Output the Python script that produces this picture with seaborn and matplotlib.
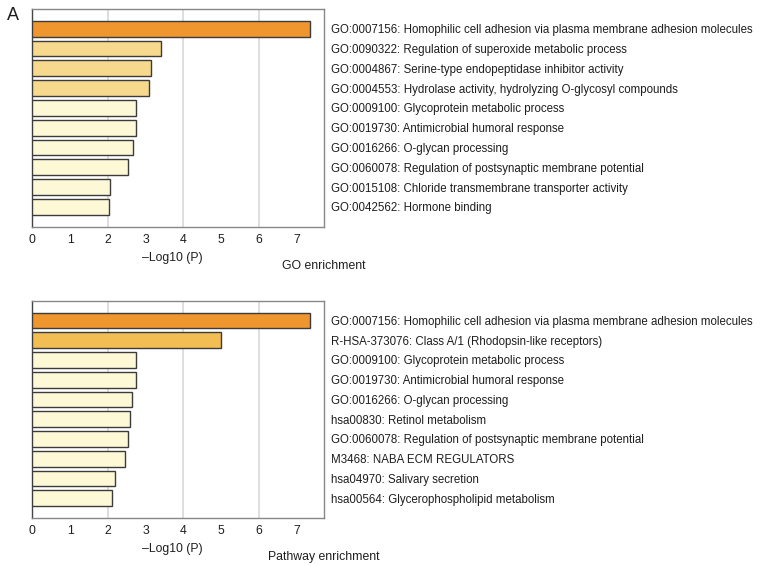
import matplotlib
matplotlib.use('Agg')
import matplotlib.pyplot as plt
import seaborn as sns
import pandas as pd

# GO enrichment (top panel)
go_terms = [
    'GO:0007156: Homophilic cell adhesion via plasma membrane adhesion molecules',
    'GO:0090322: Regulation of superoxide metabolic process',
    'GO:0004867: Serine-type endopeptidase inhibitor activity',
    'GO:0004553: Hydrolase activity, hydrolyzing O-glycosyl compounds',
    'GO:0009100: Glycoprotein metabolic process',
    'GO:0019730: Antimicrobial humoral response',
    'GO:0016266: O-glycan processing',
    'GO:0060078: Regulation of postsynaptic membrane potential',
    'GO:0015108: Chloride transmembrane transporter activity',
    'GO:0042562: Hormone binding',
]
go_logp = [7.36, 3.40, 3.15, 3.10, 2.76, 2.75, 2.66, 2.53, 2.06, 2.04]
go_colors = ['#f0962f', '#f6d98c', '#f6d98c', '#f6d98c',
             '#fdf9d6', '#fdf9d6', '#fdf9d6', '#fdf9d6', '#fdf9d6', '#fdf9d6']

# Pathway enrichment (bottom panel)
path_terms = [
    'GO:0007156: Homophilic cell adhesion via plasma membrane adhesion molecules',
    'R-HSA-373076: Class A/1 (Rhodopsin-like receptors)',
    'GO:0009100: Glycoprotein metabolic process',
    'GO:0019730: Antimicrobial humoral response',
    'GO:0016266: O-glycan processing',
    'hsa00830: Retinol metabolism',
    'GO:0060078: Regulation of postsynaptic membrane potential',
    'M3468: NABA ECM REGULATORS',
    'hsa04970: Salivary secretion',
    'hsa00564: Glycerophospholipid metabolism',
]
path_logp = [7.36, 5.01, 2.76, 2.75, 2.65, 2.58, 2.53, 2.46, 2.18, 2.12]
path_colors = ['#f0962f', '#f2bd52', '#fdf9d6', '#fdf9d6', '#fdf9d6',
               '#fdf9d6', '#fdf9d6', '#fdf9d6', '#fdf9d6', '#fdf9d6']

x_ticks = [0, 1, 2, 3, 4, 5, 6, 7]
grid_ticks = [2, 4, 6]

sns.set_style('white')
plt.rcParams['font.family'] = ['Liberation Sans', 'DejaVu Sans']
plt.rcParams['text.color'] = '#1e1e1e'
plt.rcParams['xtick.color'] = '#1e1e1e'
plt.rcParams['ytick.color'] = '#1e1e1e'
plt.rcParams['axes.labelcolor'] = '#1e1e1e'

fig = plt.figure(figsize=(7.65, 5.66), dpi=100)
ax1 = fig.add_axes([0.0422, 0.5995, 0.381, 0.3846])
ax2 = fig.add_axes([0.0422, 0.0848, 0.381, 0.3839])


def draw_panel(ax, terms, vals, colors, title):
    df = pd.DataFrame({'term': terms, 'logp': vals})
    for g in grid_ticks:
        ax.axvline(g, color='#d8d8d8', linewidth=1.2, zorder=0)
    sns.barplot(data=df, x='logp', y='term', hue='term', palette=colors,
                saturation=1, legend=False, orient='h', width=0.8,
                edgecolor='#3c3c3c', linewidth=1.0, ax=ax, zorder=3)
    ax.set_xlim(0, 7.72)
    ax.set_ylim(10, -1)
    ax.set_xticks(x_ticks)
    ax.set_xticklabels([str(t) for t in x_ticks], fontsize=8.8)
    ax.tick_params(axis='x', direction='out', length=3,
                   width=0.8, color='#555555', pad=2)
    ax.yaxis.tick_right()
    ax.tick_params(axis='y', length=0, pad=5, labelsize=8.3)
    ax.set_ylabel('')
    ax.set_xlabel('\u2013Log10 (P)', fontsize=8.8)
    ax.xaxis.set_label_coords(0.48, -0.115)
    for side in ['top', 'right', 'bottom']:
        ax.spines[side].set_color('#888888')
        ax.spines[side].set_linewidth(1.0)
    ax.spines['left'].set_color('#444444')
    ax.spines['left'].set_linewidth(1.0)
    ax.text(1.0, -0.18, title, transform=ax.transAxes, ha='center', va='center',
            fontsize=8.8)


draw_panel(ax1, go_terms, go_logp, go_colors, 'GO enrichment')
draw_panel(ax2, path_terms, path_logp, path_colors, 'Pathway enrichment')

fig.text(0.0085, 0.972, 'A', fontsize=13, ha='left', va='center')

plt.savefig('out.png', dpi=100)
